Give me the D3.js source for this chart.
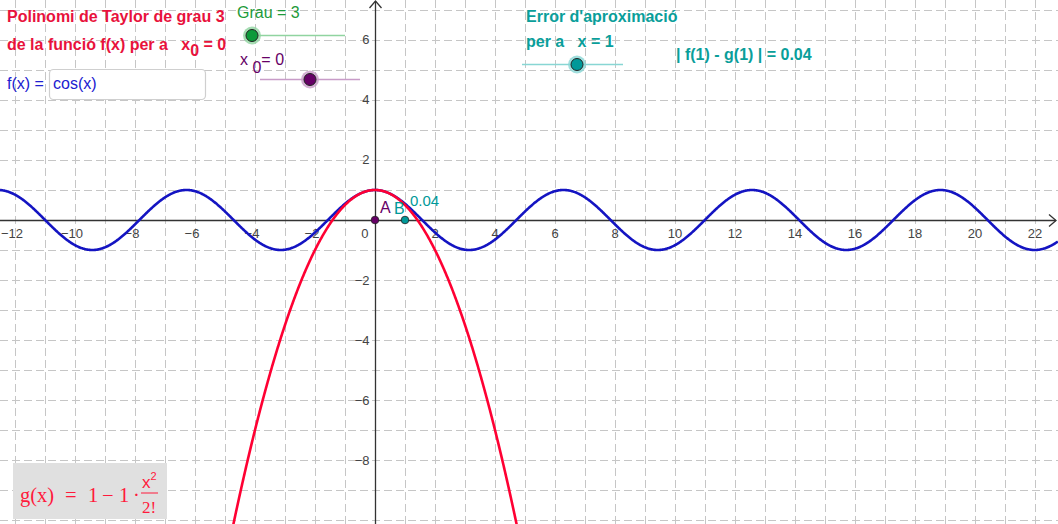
<!DOCTYPE html>
<html><head><meta charset="utf-8">
<script src="https://cdn.jsdelivr.net/npm/d3@7"></script>
<style>body{margin:0;background:#fff}svg{display:block}</style>
</head><body>
<script>
// ---- data ----
const xDomain = [-12.5, 22.767];
const yDomain = [7.333, -10.133];
const xTickLabels = [-12,-10,-8,-6,-4,-2,2,4,6,8,10,12,14,16,18,20,22];
const yTickLabels = [6,4,2,-2,-4,-6,-8];
const taylorCoeffs = [1, 0, -0.5, 0]; // g(x) = 1 - x^2/2!
const degree = 3;
const x0 = 0;
const evalX = 1;
const errorValue = 0.04;

const W = 1058, H = 524;
const svg = d3.select("body").append("svg").attr("width", W).attr("height", H)
  .attr("font-family", "'Liberation Sans',Arial,sans-serif");
const x = d3.scaleLinear().domain(xDomain).range([0, W]);
const y = d3.scaleLinear().domain(yDomain).range([0, H]);
const fmt = v => (v < 0 ? "\u2212" + Math.abs(v) : "" + v);

// grid
const grid = svg.append("g").attr("stroke", "#c6c6c6").attr("stroke-width", 1).attr("stroke-dasharray", "8,4");
d3.range(Math.ceil(xDomain[0]), Math.floor(xDomain[1]) + 1).filter(v => v !== 0).forEach(v => {
  grid.append("line").attr("x1", Math.round(x(v)) + 0.5).attr("x2", Math.round(x(v)) + 0.5).attr("y1", 0).attr("y2", H);
});
d3.range(Math.ceil(yDomain[1]), Math.floor(yDomain[0]) + 1).filter(v => v !== 0).forEach(v => {
  grid.append("line").attr("y1", Math.round(y(v)) + 0.5).attr("y2", Math.round(y(v)) + 0.5).attr("x1", 0).attr("x2", W);
});

// axes
const ax = svg.append("g").attr("stroke", "#333").attr("stroke-width", 1.3).attr("fill", "none");
const ox = Math.round(x(0)) + 0.5, oy = Math.round(y(0)) + 0.5;
ax.append("line").attr("x1", 0).attr("x2", W - 2).attr("y1", oy).attr("y2", oy);
ax.append("line").attr("x1", ox).attr("x2", ox).attr("y1", 1).attr("y2", H);
ax.append("path").attr("d", `M${W-9},${oy-6}L${W-2},${oy}L${W-9},${oy+6}`);
ax.append("path").attr("d", `M${ox-6},${8}L${ox},${1}L${ox+6},${8}`);

// tick labels
const tl = svg.append("g").attr("fill", "#444").attr("font-size", 13);
xTickLabels.forEach(v => {
  tl.append("text").attr("x", x(v) + (v < 0 ? -3 : 0)).attr("y", oy + 17).attr("text-anchor", "middle").text(fmt(v));
});
tl.append("text").attr("x", ox - 7).attr("y", oy + 17).attr("text-anchor", "end").text("0");
yTickLabels.forEach(v => {
  tl.append("text").attr("x", ox - 6).attr("y", y(v) + 4.5).attr("text-anchor", "end").text(fmt(v));
});

// curves
const xs = d3.range(xDomain[0], xDomain[1] + 0.01, 0.02);
const line = d3.line().x(d => x(d[0])).y(d => y(d[1]));
svg.append("path").attr("d", line(xs.map(t => [t, Math.cos(t)])))
  .attr("fill", "none").attr("stroke", "#1414c2").attr("stroke-width", 2.6);
const g = t => taylorCoeffs.reduce((s, c, i) => s + c * Math.pow(t - x0, i), 0);
const xr = d3.range(-5, 5.001, 0.01).filter(t => g(t) > yDomain[1] - 0.5);
svg.append("path").attr("d", line(xr.map(t => [t, g(t)])))
  .attr("fill", "none").attr("stroke", "#ff0033").attr("stroke-width", 2.6);

// points
svg.append("circle").attr("cx", x(x0)).attr("cy", y(0)).attr("r", 3.8).attr("fill", "#660066").attr("stroke", "#222").attr("stroke-width", 0.8);
svg.append("circle").attr("cx", x(evalX)).attr("cy", y(0)).attr("r", 3.8).attr("fill", "#009999").attr("stroke", "#222").attr("stroke-width", 0.8);
svg.append("text").attr("x", x(x0) + 5).attr("y", y(0) - 7).attr("fill", "#660066").attr("font-size", 16).text("A");
svg.append("text").attr("x", x(evalX) - 11).attr("y", y(0) - 6).attr("fill", "#009999").attr("font-size", 16).text("B");
svg.append("text").attr("x", x(evalX) + 5).attr("y", y(0) - 14).attr("fill", "#009999").attr("font-size", 15).text(errorValue.toFixed(2));

// title texts
const red = "#e8123c";
svg.append("text").attr("x", 7).attr("y", 22).attr("fill", red).attr("font-size", 16).attr("font-weight", "bold").text("Polinomi de Taylor de grau " + degree);
const t2 = svg.append("text").attr("x", 7).attr("y", 50).attr("fill", red).attr("font-size", 16).attr("font-weight", "bold").attr("xml:space", "preserve");
t2.append("tspan").text("de la funció f(x) per a   x");
t2.append("tspan").attr("dy", 6).attr("font-size", 16).text("0");
t2.append("tspan").attr("dy", -6).text(" = " + x0);

// f(x) input
svg.append("text").attr("x", 7).attr("y", 89).attr("fill", "#2020d0").attr("font-size", 16).text("f(x) =");
svg.append("rect").attr("x", 49.5).attr("y", 69.5).attr("width", 156).attr("height", 30).attr("rx", 4).attr("fill", "#fff").attr("stroke", "#cfcfcf").attr("stroke-width", 1.2);
svg.append("text").attr("x", 53).attr("y", 89).attr("fill", "#2020d0").attr("font-size", 16).text("cos(x)");

// sliders
function slider(x1, x2, yy, cx, col, light) {
  svg.append("line").attr("x1", x1).attr("x2", x2).attr("y1", yy).attr("y2", yy).attr("stroke", light).attr("stroke-width", 1.5);
  svg.append("circle").attr("cx", cx).attr("cy", yy).attr("r", 9).attr("fill", light).attr("opacity", 0.8);
  svg.append("circle").attr("cx", cx).attr("cy", yy).attr("r", 6).attr("fill", col).attr("stroke", "#222").attr("stroke-width", 1);
}
svg.append("text").attr("x", 237).attr("y", 18).attr("fill", "#1e9a3a").attr("font-size", 16).text("Grau = " + degree);
slider(252, 345, 35.5, 252, "#0d9a3a", "#90d4a0");
const xt = svg.append("text").attr("x", 240).attr("y", 65).attr("fill", "#660066").attr("font-size", 16);
xt.append("tspan").text("x ");
xt.append("tspan").attr("dy", 8).text("0");
xt.append("tspan").attr("dy", -8).text("= " + x0);
slider(260, 360, 79.5, 310, "#660066", "#c89cc8");

const teal = "#0a9e9a";
svg.append("text").attr("x", 526).attr("y", 22).attr("fill", teal).attr("font-size", 16).attr("font-weight", "bold").text("Error d'aproximació");
svg.append("text").attr("x", 526).attr("y", 47).attr("fill", teal).attr("font-size", 16).attr("font-weight", "bold").attr("xml:space", "preserve").text("per a   x = " + evalX);
slider(522, 623, 64.5, 577, "#009999", "#88d6d4");
svg.append("text").attr("x", 676).attr("y", 60).attr("fill", teal).attr("font-size", 16).attr("font-weight", "bold").text(`| f(${evalX}) - g(${evalX}) | = ${errorValue.toFixed(2)}`);

// formula box
svg.append("rect").attr("x", 13).attr("y", 463).attr("width", 154).attr("height", 56).attr("fill", "#e0e0e0");
const ff = svg.append("g").attr("fill", "#ff1a3c").attr("font-family", "'Liberation Serif',serif");
const fm = ff.append("text").attr("y", 502).attr("font-size", 20.5);
[["g(x)", 20], ["=", 65], ["1", 88], ["\u2212", 102], ["1", 119], ["\u00b7", 133]].forEach(([s, px]) => {
  fm.append("tspan").attr("x", px).text(s);
});
const fr = ff.append("text").attr("x", 142).attr("y", 488).attr("font-size", 17).attr("font-family", "'Liberation Sans',sans-serif");
fr.append("tspan").text("x");
fr.append("tspan").attr("dy", -8).attr("font-size", 11).text("2");
ff.append("line").attr("x1", 141).attr("x2", 158).attr("y1", 493).attr("y2", 493).attr("stroke", "#ff1a3c").attr("stroke-width", 1);
ff.append("text").attr("x", 142).attr("y", 513).attr("font-size", 17).text("2!");
</script>
</body></html>
